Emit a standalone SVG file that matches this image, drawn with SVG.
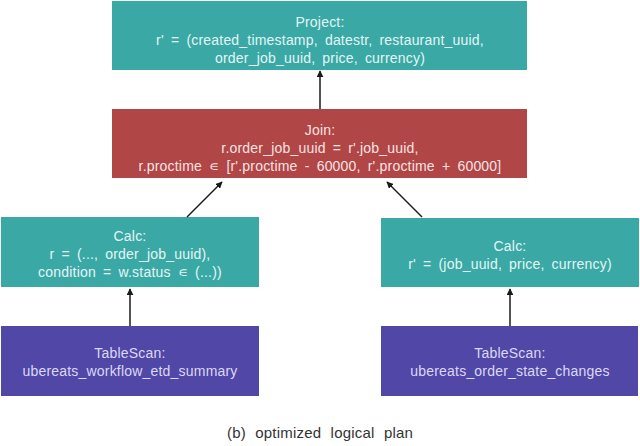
<svg xmlns="http://www.w3.org/2000/svg" width="640" height="446" viewBox="0 0 640 446">
<defs>
<marker id="ah" viewBox="0 0 10 10" refX="9" refY="5" markerWidth="7" markerHeight="7" orient="auto" markerUnits="userSpaceOnUse">
<path d="M0,0 L10,5 L0,10 z" fill="#1a1a1a"/>
</marker>
<style>
.teal{fill:#3aa8a5}
.red{fill:#b04646}
.purple{fill:#5047a6}
text{font-family:"Liberation Sans",Arial,sans-serif;font-size:14px;text-anchor:middle;word-spacing:3px;letter-spacing:0.2px}
.tt{fill:#e3f6f5}
.tr{fill:#f7e3e3}
.tp{fill:#dcd8f7}
.cap{fill:#333333;font-size:15px;word-spacing:5px}
.c{stroke:#1a1a1a;stroke-width:1.5;fill:none;marker-end:url(#ah)}
</style>
</defs>
<rect width="640" height="446" fill="#ffffff"/>
<g id="project">
<rect class="teal" x="112" y="1" width="415" height="69"/>
<text class="tt" x="320" y="27">Project:</text>
<text class="tt" x="320" y="45">r' = (created_timestamp, datestr, restaurant_uuid,</text>
<text class="tt" x="320" y="63">order_job_uuid, price, currency)</text>
</g>
<g id="join">
<rect class="red" x="112" y="109" width="415" height="69"/>
<text class="tr" x="320" y="135">Join:</text>
<text class="tr" x="320" y="153">r.order_job_uuid = r'.job_uuid,</text>
<text class="tr" x="320" y="171">r.proctime ∊ [r'.proctime - 60000, r'.proctime + 60000]</text>
</g>
<g id="calc-left">
<rect class="teal" x="1" y="217" width="258" height="70"/>
<text class="tt" x="130" y="241">Calc:</text>
<text class="tt" x="130" y="259">r = (..., order_job_uuid),</text>
<text class="tt" x="130" y="277">condition = w.status ∊ (...))</text>
</g>
<g id="calc-right">
<rect class="teal" x="381" y="218" width="258" height="69"/>
<text class="tt" x="510" y="251">Calc:</text>
<text class="tt" x="510" y="269">r' = (job_uuid, price, currency)</text>
</g>
<g id="tablescan-left">
<rect class="purple" x="1" y="326" width="258" height="70"/>
<text class="tp" x="130" y="358">TableScan:</text>
<text class="tp" x="130" y="376">ubereats_workflow_etd_summary</text>
</g>
<g id="tablescan-right">
<rect class="purple" x="381" y="326" width="257" height="70"/>
<text class="tp" x="510" y="358">TableScan:</text>
<text class="tp" x="510" y="376">ubereats_order_state_changes</text>
</g>
<g id="connectors">
<line class="c" x1="320" y1="109" x2="320" y2="71"/>
<line class="c" x1="187" y1="217" x2="222" y2="182"/>
<line class="c" x1="422" y1="217" x2="387" y2="182"/>
<line class="c" x1="130" y1="326" x2="130" y2="289"/>
<line class="c" x1="510" y1="326" x2="510" y2="289"/>
</g>
<text class="cap" x="320" y="438">(b) optimized logical plan</text>
</svg>
